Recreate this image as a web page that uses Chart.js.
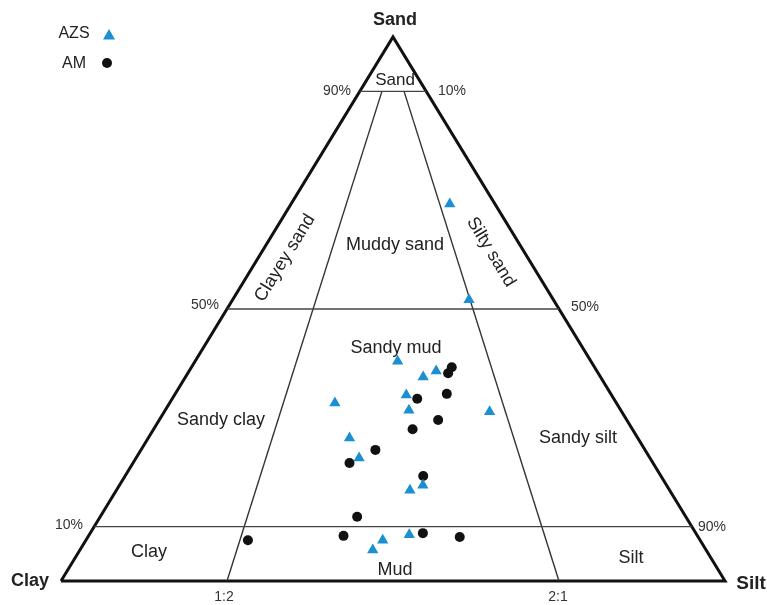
<!DOCTYPE html>
<html>
<head>
<meta charset="utf-8">
<script src="https://cdn.jsdelivr.net/npm/chart.js@4"></script>
<style>
  html, body { margin: 0; padding: 0; background: #fff; }
  #wrap { width: 767px; height: 605px; position: relative; }
</style>
</head>
<body>
<div id="wrap"><canvas id="c"></canvas></div>
<script>
// sample composition in percent (clay = 100 - sand - silt)
const azsSand = [40.4, 38.6, 37.5, 34.2, 32.7, 31.4, 31.1, 26.3, 22.6, 17.6, 16.7, 7.5, 5.7, 8.5, 69.3, 51.7];
const azsSilt = [30.5, 37.2, 35.8, 34.9, 24.9, 36.7, 49.0, 30.3, 33.6, 45.7, 44.2, 44.7, 44.1, 48.2, 23.9, 35.6];
const amSand = [39.3, 38.2, 33.5, 34.4, 29.6, 27.9, 24.1, 21.7, 19.3, 7.5, 8.3, 11.8, 8.8, 8.1];
const amSilt = [39.2, 39.2, 36.9, 40.9, 42.0, 39.0, 35.3, 32.6, 44.9, 24.4, 38.4, 38.7, 50.1, 56.0];

// class boundaries
const sandLevels = [90, 50, 10];
const dividerTop = [1 / 3, 2 / 3];   // silt share of the mud part at 90% sand
const dividerBase = [0.25, 0.75];    // silt share at the base (1:2, 2:1)

const toXY = (sand, silt) => ({ x: silt + sand / 2, y: sand });

const lineStyle = (data, width, color) => ({
    type: "line",
    data: data,
    borderColor: color,
    borderWidth: width,
    pointRadius: 0,
    fill: false,
    tension: 0,
    clip: false,
    order: 2
});

const datasets = [];
datasets.push({
    label: "AZS",
    data: azsSand.map((s, i) => toXY(s, azsSilt[i])),
    pointStyle: "triangle",
    pointRadius: 6.5,
    backgroundColor: "#1b8fd2",
    borderColor: "#1b8fd2",
    borderWidth: 0,
    order: 0
});
datasets.push({
    label: "AM",
    data: amSand.map((s, i) => toXY(s, amSilt[i])),
    pointStyle: "circle",
    pointRadius: 5,
    backgroundColor: "#111",
    borderColor: "#111",
    borderWidth: 0,
    order: 1
});
sandLevels.forEach(s => {
    datasets.push(lineStyle([toXY(s, 0), toXY(s, 100 - s)], 1.4, "#444"));
});
dividerTop.forEach((f, i) => {
    datasets.push(lineStyle([toXY(90, 10 * f), toXY(0, 100 * dividerBase[i])], 1.4, "#333"));
});
datasets.push(lineStyle([toXY(0, 0), toXY(0, 100), toXY(100, 0), toXY(0, 0)], 3, "#111"));

const FONT = "'Liberation Sans', Arial, sans-serif";
const REG = "18px " + FONT;
const texts = [
    { t: "Sand", x: 395, y: 20, f: "bold 18px " + FONT, c: "#222" },
    { t: "Clay", x: 30, y: 581, f: "bold 18px " + FONT, c: "#222" },
    { t: "Silt", x: 751, y: 584, f: "bold 19px " + FONT, c: "#222" },
    { t: "90%", x: 337, y: 91, f: "14px " + FONT, c: "#333" },
    { t: "10%", x: 452, y: 91, f: "14px " + FONT, c: "#333" },
    { t: "50%", x: 205, y: 305, f: "14px " + FONT, c: "#333" },
    { t: "50%", x: 585, y: 307, f: "14px " + FONT, c: "#333" },
    { t: "10%", x: 69, y: 525, f: "14px " + FONT, c: "#333" },
    { t: "90%", x: 712, y: 527, f: "14px " + FONT, c: "#333" },
    { t: "1:2", x: 224, y: 597, f: "14px " + FONT, c: "#333" },
    { t: "2:1", x: 558, y: 597, f: "14px " + FONT, c: "#333" },
    { t: "Sand", x: 395, y: 80, f: "17px " + FONT, c: "#222" },
    { t: "Muddy sand", x: 395, y: 245, f: REG, c: "#222" },
    { t: "Sandy mud", x: 396, y: 348, f: REG, c: "#222" },
    { t: "Sandy clay", x: 221, y: 420, f: REG, c: "#222" },
    { t: "Sandy silt", x: 578, y: 438, f: REG, c: "#222" },
    { t: "Clay", x: 149, y: 552, f: REG, c: "#222" },
    { t: "Mud", x: 395, y: 570, f: REG, c: "#222" },
    { t: "Silt", x: 631, y: 558, f: REG, c: "#222" },
    { t: "Clayey sand", x: 285, y: 258, f: REG, c: "#222", r: -58.5 },
    { t: "Silty sand", x: 491, y: 252, f: REG, c: "#222", r: 58.8 },
    { t: "AZS", x: 74, y: 34, f: "16px " + FONT, c: "#222" },
    { t: "AM", x: 74, y: 64, f: "16px " + FONT, c: "#222" }
];

const labelPlugin = {
    id: "labels",
    afterDraw(chart) {
        const ctx = chart.ctx;
        ctx.save();
        ctx.textAlign = "center";
        ctx.textBaseline = "middle";
        texts.forEach(l => {
            ctx.save();
            ctx.font = l.f;
            ctx.fillStyle = l.c;
            ctx.translate(l.x, l.y);
            if (l.r) ctx.rotate(l.r * Math.PI / 180);
            ctx.fillText(l.t, 0, 0);
            ctx.restore();
        });
        // legend markers
        ctx.fillStyle = "#1b8fd2";
        ctx.beginPath();
        ctx.moveTo(109, 29);
        ctx.lineTo(115, 39.5);
        ctx.lineTo(103, 39.5);
        ctx.closePath();
        ctx.fill();
        ctx.fillStyle = "#111";
        ctx.beginPath();
        ctx.arc(107, 63, 5, 0, Math.PI * 2);
        ctx.fill();
        ctx.restore();
    }
};

new Chart(document.getElementById("c"), {
    type: "scatter",
    data: { datasets: datasets },
    options: {
        responsive: true,
        maintainAspectRatio: false,
        animation: false,
        layout: { padding: { left: 61, right: 42, top: 37, bottom: 24 } },
        scales: {
            x: { type: "linear", min: 0, max: 100, display: false },
            y: { type: "linear", min: 0, max: 100, display: false }
        },
        plugins: {
            legend: { display: false },
            tooltip: { enabled: false }
        }
    },
    plugins: [labelPlugin]
});
</script>
</body>
</html>
